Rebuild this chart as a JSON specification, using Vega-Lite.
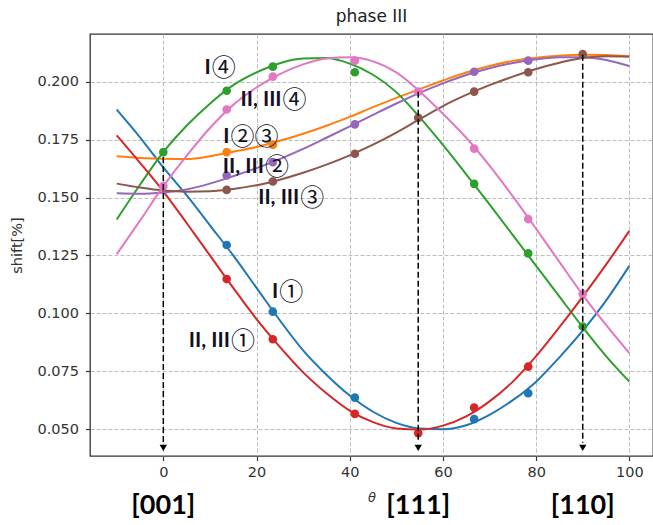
{
  "$schema": "https://vega.github.io/schema/vega-lite/v6.json",
  "autosize": "none",
  "width": 563,
  "height": 422,
  "padding": {"left": 90, "top": 34, "right": 0, "bottom": 69},
  "background": "white",
  "title": {"text": "phase III", "font": "DejaVu Sans", "fontSize": 17, "fontWeight": "normal", "color": "#222222", "offset": 8},
  "config": {
    "view": {"stroke": "#333333", "strokeWidth": 1.3},
    "axis": {
      "domain": false, "grid": true, "gridColor": "#bdbdbd", "gridDash": [4, 2], "gridWidth": 1,
      "tickColor": "#333333", "tickSize": 4.5, "tickWidth": 1.2,
      "labelFont": "DejaVu Sans", "labelFontSize": 14.5, "labelColor": "#333333",
      "titleFont": "DejaVu Sans", "titleFontWeight": "normal", "titleColor": "#333333"
    }
  },
  "datasets": {
    "curves": [
      {"series":"I1","theta":-10,"shift":0.188},{"series":"I1","theta":-5,"shift":0.176},{"series":"I1","theta":0,"shift":0.163},{"series":"I1","theta":5,"shift":0.151},{"series":"I1","theta":10,"shift":0.138},{"series":"I1","theta":15,"shift":0.125},{"series":"I1","theta":20,"shift":0.111},{"series":"I1","theta":25,"shift":0.097},{"series":"I1","theta":30,"shift":0.084},{"series":"I1","theta":35,"shift":0.0735},{"series":"I1","theta":40,"shift":0.0645},{"series":"I1","theta":45,"shift":0.0575},{"series":"I1","theta":50,"shift":0.0527},{"series":"I1","theta":55,"shift":0.0503},{"series":"I1","theta":60,"shift":0.0500},{"series":"I1","theta":65,"shift":0.0517},{"series":"I1","theta":70,"shift":0.0562},{"series":"I1","theta":75,"shift":0.0625},{"series":"I1","theta":80,"shift":0.0705},{"series":"I1","theta":85,"shift":0.0810},{"series":"I1","theta":90,"shift":0.0925},{"series":"I1","theta":95,"shift":0.1055},{"series":"I1","theta":100,"shift":0.1205},
      {"series":"I23","theta":-10,"shift":0.1678},{"series":"I23","theta":-5,"shift":0.1671},{"series":"I23","theta":0,"shift":0.1667},{"series":"I23","theta":5,"shift":0.1666},{"series":"I23","theta":10,"shift":0.1678},{"series":"I23","theta":15,"shift":0.1698},{"series":"I23","theta":20,"shift":0.1718},{"series":"I23","theta":25,"shift":0.1745},{"series":"I23","theta":30,"shift":0.1775},{"series":"I23","theta":35,"shift":0.1810},{"series":"I23","theta":40,"shift":0.1848},{"series":"I23","theta":45,"shift":0.1890},{"series":"I23","theta":50,"shift":0.1930},{"series":"I23","theta":55,"shift":0.1968},{"series":"I23","theta":60,"shift":0.2005},{"series":"I23","theta":65,"shift":0.2040},{"series":"I23","theta":70,"shift":0.2068},{"series":"I23","theta":75,"shift":0.2090},{"series":"I23","theta":80,"shift":0.2103},{"series":"I23","theta":85,"shift":0.2112},{"series":"I23","theta":90,"shift":0.2116},{"series":"I23","theta":95,"shift":0.2115},{"series":"I23","theta":100,"shift":0.2110},
      {"series":"I4","theta":-10,"shift":0.1405},{"series":"I4","theta":-5,"shift":0.1555},{"series":"I4","theta":0,"shift":0.1696},{"series":"I4","theta":5,"shift":0.1810},{"series":"I4","theta":10,"shift":0.1905},{"series":"I4","theta":15,"shift":0.1985},{"series":"I4","theta":20,"shift":0.2040},{"series":"I4","theta":25,"shift":0.2080},{"series":"I4","theta":30,"shift":0.2100},{"series":"I4","theta":35,"shift":0.2102},{"series":"I4","theta":40,"shift":0.2078},{"series":"I4","theta":45,"shift":0.2030},{"series":"I4","theta":50,"shift":0.1955},{"series":"I4","theta":55,"shift":0.1847},{"series":"I4","theta":60,"shift":0.1727},{"series":"I4","theta":65,"shift":0.1600},{"series":"I4","theta":70,"shift":0.1470},{"series":"I4","theta":75,"shift":0.1338},{"series":"I4","theta":80,"shift":0.1205},{"series":"I4","theta":85,"shift":0.1072},{"series":"I4","theta":90,"shift":0.0940},{"series":"I4","theta":95,"shift":0.0815},{"series":"I4","theta":100,"shift":0.0705},
      {"series":"II1","theta":-10,"shift":0.1768},{"series":"II1","theta":-5,"shift":0.1650},{"series":"II1","theta":0,"shift":0.1527},{"series":"II1","theta":5,"shift":0.1390},{"series":"II1","theta":10,"shift":0.1250},{"series":"II1","theta":15,"shift":0.1110},{"series":"II1","theta":20,"shift":0.0975},{"series":"II1","theta":25,"shift":0.0855},{"series":"II1","theta":30,"shift":0.0745},{"series":"II1","theta":35,"shift":0.0655},{"series":"II1","theta":40,"shift":0.0580},{"series":"II1","theta":45,"shift":0.0530},{"series":"II1","theta":50,"shift":0.0503},{"series":"II1","theta":55,"shift":0.0498},{"series":"II1","theta":60,"shift":0.0515},{"series":"II1","theta":65,"shift":0.0555},{"series":"II1","theta":70,"shift":0.0620},{"series":"II1","theta":75,"shift":0.0705},{"series":"II1","theta":80,"shift":0.0815},{"series":"II1","theta":85,"shift":0.0940},{"series":"II1","theta":90,"shift":0.1072},{"series":"II1","theta":95,"shift":0.1210},{"series":"II1","theta":100,"shift":0.1356},
      {"series":"II2","theta":-10,"shift":0.1518},{"series":"II2","theta":-5,"shift":0.1516},{"series":"II2","theta":0,"shift":0.1522},{"series":"II2","theta":5,"shift":0.1535},{"series":"II2","theta":10,"shift":0.1560},{"series":"II2","theta":15,"shift":0.1592},{"series":"II2","theta":20,"shift":0.1627},{"series":"II2","theta":25,"shift":0.1666},{"series":"II2","theta":30,"shift":0.1710},{"series":"II2","theta":35,"shift":0.1758},{"series":"II2","theta":40,"shift":0.1807},{"series":"II2","theta":45,"shift":0.1857},{"series":"II2","theta":50,"shift":0.1906},{"series":"II2","theta":55,"shift":0.1952},{"series":"II2","theta":60,"shift":0.1993},{"series":"II2","theta":65,"shift":0.2029},{"series":"II2","theta":70,"shift":0.2058},{"series":"II2","theta":75,"shift":0.2081},{"series":"II2","theta":80,"shift":0.2097},{"series":"II2","theta":85,"shift":0.2106},{"series":"II2","theta":90,"shift":0.2106},{"series":"II2","theta":95,"shift":0.2094},{"series":"II2","theta":100,"shift":0.2068},
      {"series":"II3","theta":-10,"shift":0.1560},{"series":"II3","theta":-5,"shift":0.1543},{"series":"II3","theta":0,"shift":0.1530},{"series":"II3","theta":5,"shift":0.1525},{"series":"II3","theta":10,"shift":0.1527},{"series":"II3","theta":15,"shift":0.1537},{"series":"II3","theta":20,"shift":0.1553},{"series":"II3","theta":25,"shift":0.1577},{"series":"II3","theta":30,"shift":0.1607},{"series":"II3","theta":35,"shift":0.1642},{"series":"II3","theta":40,"shift":0.1682},{"series":"II3","theta":45,"shift":0.1728},{"series":"II3","theta":50,"shift":0.1780},{"series":"II3","theta":55,"shift":0.1838},{"series":"II3","theta":60,"shift":0.1895},{"series":"II3","theta":65,"shift":0.1943},{"series":"II3","theta":70,"shift":0.1985},{"series":"II3","theta":75,"shift":0.2022},{"series":"II3","theta":80,"shift":0.2055},{"series":"II3","theta":85,"shift":0.2082},{"series":"II3","theta":90,"shift":0.2102},{"series":"II3","theta":95,"shift":0.2110},{"series":"II3","theta":100,"shift":0.2108},
      {"series":"II4","theta":-10,"shift":0.1255},{"series":"II4","theta":-5,"shift":0.1400},{"series":"II4","theta":0,"shift":0.1549},{"series":"II4","theta":5,"shift":0.1680},{"series":"II4","theta":10,"shift":0.1800},{"series":"II4","theta":15,"shift":0.1900},{"series":"II4","theta":20,"shift":0.1975},{"series":"II4","theta":25,"shift":0.2033},{"series":"II4","theta":30,"shift":0.2075},{"series":"II4","theta":35,"shift":0.2100},{"series":"II4","theta":40,"shift":0.2106},{"series":"II4","theta":45,"shift":0.2088},{"series":"II4","theta":50,"shift":0.2040},{"series":"II4","theta":55,"shift":0.1958},{"series":"II4","theta":60,"shift":0.1862},{"series":"II4","theta":65,"shift":0.1758},{"series":"II4","theta":70,"shift":0.1638},{"series":"II4","theta":75,"shift":0.1505},{"series":"II4","theta":80,"shift":0.1365},{"series":"II4","theta":85,"shift":0.1222},{"series":"II4","theta":90,"shift":0.1080},{"series":"II4","theta":95,"shift":0.0950},{"series":"II4","theta":100,"shift":0.0828}
    ],
    "points": [
      {"series":"I1","theta":13.6,"shift":0.1295},{"series":"I1","theta":23.5,"shift":0.1007},{"series":"I1","theta":41.1,"shift":0.0636},{"series":"I1","theta":66.7,"shift":0.0543},{"series":"I1","theta":78.3,"shift":0.0655},
      {"series":"I23","theta":13.6,"shift":0.1696},{"series":"I23","theta":23.5,"shift":0.1728},
      {"series":"I4","theta":0,"shift":0.1696},{"series":"I4","theta":13.6,"shift":0.1961},{"series":"I4","theta":23.5,"shift":0.2065},{"series":"I4","theta":41.1,"shift":0.2041},{"series":"I4","theta":66.7,"shift":0.1559},{"series":"I4","theta":78.3,"shift":0.1259},{"series":"I4","theta":90,"shift":0.0943},
      {"series":"II1","theta":13.6,"shift":0.1148},{"series":"II1","theta":23.5,"shift":0.0888},{"series":"II1","theta":41.1,"shift":0.0566},{"series":"II1","theta":54.7,"shift":0.0483},{"series":"II1","theta":66.7,"shift":0.0593},{"series":"II1","theta":78.3,"shift":0.0770},
      {"series":"II2","theta":13.6,"shift":0.1595},{"series":"II2","theta":23.5,"shift":0.1653},{"series":"II2","theta":41.1,"shift":0.1816},{"series":"II2","theta":66.7,"shift":0.2043},{"series":"II2","theta":78.3,"shift":0.2091},
      {"series":"II3","theta":13.6,"shift":0.1533},{"series":"II3","theta":23.5,"shift":0.1569},{"series":"II3","theta":41.1,"shift":0.1689},{"series":"II3","theta":54.7,"shift":0.1844},{"series":"II3","theta":66.7,"shift":0.1957},{"series":"II3","theta":78.3,"shift":0.2041},{"series":"II3","theta":90,"shift":0.2119},
      {"series":"II4","theta":0,"shift":0.1549},{"series":"II4","theta":13.6,"shift":0.1880},{"series":"II4","theta":23.5,"shift":0.2022},{"series":"II4","theta":41.1,"shift":0.2091},{"series":"II4","theta":54.7,"shift":0.1957},{"series":"II4","theta":66.7,"shift":0.1711},{"series":"II4","theta":78.3,"shift":0.1407},{"series":"II4","theta":90,"shift":0.1084}
    ],
    "arrows": [
      {"theta":0,"top":0.1675,"dir":"[001]"},
      {"theta":54.7,"top":0.1957,"dir":"[111]"},
      {"theta":90,"top":0.2116,"dir":"[110]"}
    ],
    "labels": [
      {"theta":10.4,"shift":0.2059,"roman":"I","num":"④"},
      {"theta":25.6,"shift":0.1921,"roman":"II, III","num":"④"},
      {"theta":14.4,"shift":0.1762,"roman":"I","num":"②③"},
      {"theta":21.8,"shift":0.1630,"roman":"II, III","num":"②"},
      {"theta":29.4,"shift":0.1498,"roman":"II, III","num":"③"},
      {"theta":24.9,"shift":0.1090,"roman":"I","num":"①"},
      {"theta":14.5,"shift":0.0879,"roman":"II, III","num":"①"}
    ]
  },
  "layer": [
    {
      "data": {"name":"curves"},
      "mark": {"type":"line","interpolate":"monotone","strokeWidth":2},
      "encoding": {
        "x": {"field":"theta","type":"quantitative","scale":{"domain":[-15.73,105.08],"nice":false,"zero":false},
          "axis":{"values":[0,20,40,60,80,100],"title":"θ","titleFontStyle":"italic","titleFontSize":13,"titlePadding":12,"labelPadding":5}},
        "y": {"field":"shift","type":"quantitative","scale":{"domain":[0.0384,0.2206],"nice":false,"zero":false},
          "axis":{"values":[0.05,0.075,0.1,0.125,0.15,0.175,0.2],"format":".3f","title":"shift[%]","titleFontSize":14.5,"titlePadding":12,"labelPadding":7}},
        "color": {"field":"series","type":"nominal","legend":null,
          "scale":{"domain":["I1","I23","I4","II1","II2","II3","II4"],"range":["#1f77b4","#ff7f0e","#2ca02c","#d62728","#9467bd","#8c564b","#e377c2"]}}
      }
    },
    {
      "data": {"name":"points"},
      "mark": {"type":"circle","size":75,"opacity":1},
      "encoding": {
        "x": {"field":"theta","type":"quantitative"},
        "y": {"field":"shift","type":"quantitative"},
        "color": {"field":"series","type":"nominal","legend":null}
      }
    },
    {
      "data": {"name":"arrows"},
      "mark": {"type":"rule","color":"black","strokeWidth":1.5,"strokeDash":[6,3]},
      "encoding": {
        "x": {"field":"theta","type":"quantitative"},
        "y": {"field":"top","type":"quantitative"},
        "y2": {"datum":0.0441}
      }
    },
    {
      "data": {"name":"arrows"},
      "mark": {"type":"point","shape":"triangle-down","filled":true,"size":55,"color":"black","opacity":1},
      "encoding": {
        "x": {"field":"theta","type":"quantitative"},
        "y": {"datum":0.0419}
      }
    },
    {
      "data": {"name":"labels"},
      "mark": {"type":"text","align":"right","baseline":"middle","font":"Lato","fontWeight":"bold","fontSize":21,"color":"#111122","dx":-1},
      "encoding": {
        "x": {"field":"theta","type":"quantitative"},
        "y": {"field":"shift","type":"quantitative"},
        "text": {"field":"roman"}
      }
    },
    {
      "data": {"name":"labels"},
      "mark": {"type":"text","align":"left","baseline":"middle","font":"Noto Sans CJK JP","fontWeight":"normal","fontSize":24,"color":"#111122","dy":1},
      "encoding": {
        "x": {"field":"theta","type":"quantitative"},
        "y": {"field":"shift","type":"quantitative"},
        "text": {"field":"num"}
      }
    },
    {
      "data": {"name":"arrows"},
      "mark": {"type":"text","align":"center","baseline":"middle","font":"Lato","fontWeight":"bold","fontSize":27,"color":"#000000","dy":50},
      "encoding": {
        "x": {"field":"theta","type":"quantitative"},
        "y": {"datum":0.0384},
        "text": {"field":"dir"}
      }
    }
  ]
}
